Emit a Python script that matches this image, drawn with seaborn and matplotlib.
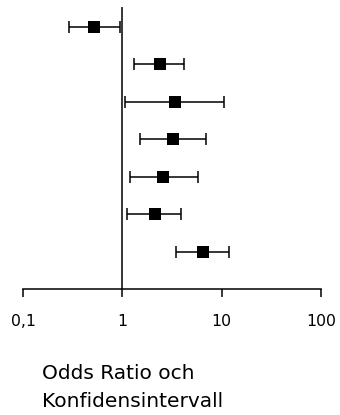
import numpy as np
import pandas as pd
import matplotlib
matplotlib.use("Agg")
import matplotlib.pyplot as plt
import seaborn as sns

# Odds ratios with lower / upper confidence limits, top row first
rows = [1, 2, 3, 4, 5, 6, 7]
odds_ratio = [0.52, 2.39, 3.36, 3.24, 2.59, 2.13, 6.48]
ci_low = [0.29, 1.30, 1.06, 1.52, 1.20, 1.11, 3.50]
ci_high = [0.95, 4.21, 10.6, 7.0, 5.8, 3.93, 11.9]
tick_values = [0.1, 1, 10, 100]
tick_labels = ["0,1", "1", "10", "100"]

df = pd.DataFrame({"row": rows, "or": odds_ratio, "lo": ci_low, "hi": ci_high})

sns.set_style("white")
plt.rcParams["font.family"] = ["DejaVu Sans"]
plt.rcParams["text.color"] = "black"
plt.rcParams["xtick.color"] = "black"

fig = plt.figure(figsize=(3.4, 4.15), dpi=100)
ax = fig.add_axes([23 / 340, 126 / 415, 298 / 340, 282 / 415])

# confidence intervals
ax.errorbar(df["or"], df["row"],
            xerr=[df["or"] - df["lo"], df["hi"] - df["or"]],
            fmt="none", ecolor="black", elinewidth=1.1, capsize=4, capthick=1.1)
# point estimates
sns.scatterplot(data=df, x="or", y="row", marker="s", s=64, color="black",
                edgecolor="black", linewidth=0, ax=ax, zorder=3)

ax.axvline(1, color="black", lw=1.1, zorder=1)

ax.set_xscale("log")
ax.set_xlim(0.1, 100)
ax.set_ylim(8, 0.47)
ax.set_xticks(tick_values)
ax.set_xticklabels(tick_labels, fontsize=11.3, color="black")
ax.minorticks_off()
ax.tick_params(axis="x", direction="out", length=6, width=1.1, color="black", pad=12, bottom=True)
ax.set_yticks([])
ax.set_xlabel("")
ax.set_ylabel("")
for s in ["top", "right", "left"]:
    ax.spines[s].set_visible(False)
ax.spines["bottom"].set_color("black")
ax.spines["bottom"].set_linewidth(1.1)

fig.text(42 / 340, 1 - 364 / 415, "Odds Ratio och\nKonfidensintervall",
         fontsize=14.5, color="black", ha="left", va="top", linespacing=1.62)

fig.savefig("out.png", dpi=100)
